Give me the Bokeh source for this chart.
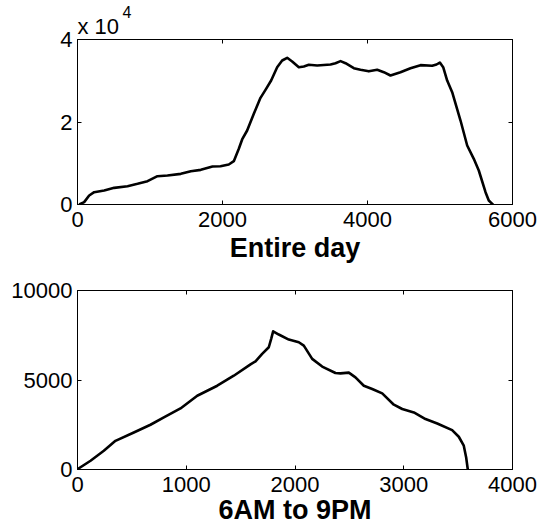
from bokeh.plotting import figure
from bokeh.models import Range1d, LinearAxis, Title, FixedTicker
from bokeh.layouts import column
from bokeh.embed import file_html
from bokeh.resources import INLINE

# ---- data ----
day_x = [23, 92, 161, 230, 368, 506, 690, 828, 966, 1103, 1241, 1425, 1563, 1701, 1862,
         1972, 2087, 2156, 2225, 2271, 2340, 2432, 2524, 2593, 2671, 2754, 2823, 2892,
         2961, 3053, 3122, 3191, 3306, 3490, 3559, 3628, 3697, 3811, 3903, 4018, 4134,
         4225, 4317, 4455, 4593, 4731, 4892, 4952, 4998, 5044, 5099, 5168, 5283, 5375,
         5466, 5535, 5628, 5673, 5720, 5735]
day_y = [0, 570, 2180, 2990, 3390, 4040, 4440, 5010, 5650, 6860, 7030, 7430, 8080, 8400, 9210,
         9290, 9700, 10500, 13500, 15760, 17940, 21980, 25860, 27800, 30060, 33290, 34910, 35560,
         34670, 33290, 33450, 33860, 33700, 33940, 34260, 34750, 34260, 33050, 32650, 32280, 32650,
         32080, 31270, 32080, 33050, 33780, 33620, 33940, 34420, 33290, 30060, 27230, 20360, 14300,
         11070, 8240, 2990, 970, 160, 0]

work_x = [0, 120, 242, 349, 518, 671, 794, 947, 1101, 1285, 1437, 1591, 1637, 1698, 1759,
          1781, 1799, 1851, 1943, 2035, 2081, 2158, 2250, 2372, 2418, 2495, 2556, 2633, 2710,
          2802, 2909, 2986, 3093, 3200, 3308, 3445, 3506, 3552, 3574, 3589]
work_y = [20, 490, 1050, 1600, 2070, 2500, 2910, 3410, 4120, 4680, 5240, 5870, 6040, 6460, 6830,
          7300, 7720, 7540, 7260, 7110, 6920, 6180, 5750, 5390, 5370, 5410, 5150, 4680, 4500,
          4250, 3620, 3380, 3190, 2820, 2570, 2200, 1830, 1330, 670, 0]

day_xticks = [0, 2000, 4000, 6000]
day_yticks = [0, 20000, 40000]
day_ytick_labels = {0: "0", 20000: "2", 40000: "4"}
work_xticks = [0, 1000, 2000, 3000, 4000]
work_yticks = [0, 5000, 10000]

FONT = "Liberation Sans"
TICK_SIZE = "22px"
TITLE_SIZE = "27px"


def style_axis(ax, ticks, show_labels=True, overrides=None, standoff=6):
    ax.ticker = FixedTicker(ticks=ticks)
    ax.major_tick_in = 4
    ax.major_tick_out = 0
    ax.minor_tick_line_color = None
    ax.axis_line_color = "black"
    ax.major_tick_line_color = "black"
    ax.major_label_text_font = FONT
    ax.major_label_standoff = standoff
    if show_labels:
        ax.major_label_text_font_size = TICK_SIZE
        ax.major_label_text_color = "black"
    else:
        ax.major_label_text_font_size = "1px"
        ax.major_label_text_color = None
        ax.major_label_standoff = 0
    if overrides:
        ax.major_label_overrides = overrides


def make_fig(h, top, bottom, xr, yr, xt, yt, xlabel, label_standoff, yover=None):
    p = figure(width=539, height=h, output_backend="svg", toolbar_location=None,
               x_range=Range1d(*xr), y_range=Range1d(*yr),
               min_border_left=77, min_border_right=27,
               min_border_top=top, min_border_bottom=bottom,
               x_axis_location=None, y_axis_location=None)
    p.grid.visible = False
    p.outline_line_color = "black"
    p.background_fill_color = "white"
    p.border_fill_color = "white"
    bx = LinearAxis(); style_axis(bx, xt, standoff=7)
    bx.axis_label = xlabel
    bx.axis_label_text_font = FONT
    bx.axis_label_text_font_size = TITLE_SIZE
    bx.axis_label_text_font_style = "bold"
    bx.axis_label_text_color = "black"
    bx.axis_label_standoff = label_standoff
    ly = LinearAxis(); style_axis(ly, yt, overrides=yover, standoff=5)
    tx = LinearAxis(); style_axis(tx, xt, show_labels=False)
    ry = LinearAxis(); style_axis(ry, yt, show_labels=False)
    p.add_layout(bx, "below")
    p.add_layout(ly, "left")
    p.add_layout(tx, "above")
    p.add_layout(ry, "right")
    return p


p1 = make_fig(270, 39, 66, (0, 6000), (0, 40000), day_xticks, day_yticks,
              "Entire day", 3, day_ytick_labels)
p1.line(day_x, day_y, line_color="black", line_width=2.6, line_join="round")
p1.add_layout(Title(text="x 10", align="left", text_font=FONT,
                    text_font_size=TICK_SIZE, text_font_style="normal",
                    text_color="black", standoff=2, offset=0), "above")
p1.add_layout(Title(text="4", align="left", text_font=FONT,
                    text_font_size="16px", text_font_style="normal",
                    text_color="black", standoff=-14, offset=45), "above")

p2 = make_fig(258, 20, 59, (0, 4000), (0, 10000), work_xticks, work_yticks,
              "6AM to 9PM", 0)
p2.line(work_x, work_y, line_color="black", line_width=2.6, line_join="round")

layout = column(p1, p2, spacing=0)
open("out.html", "w").write(file_html(layout, INLINE))
